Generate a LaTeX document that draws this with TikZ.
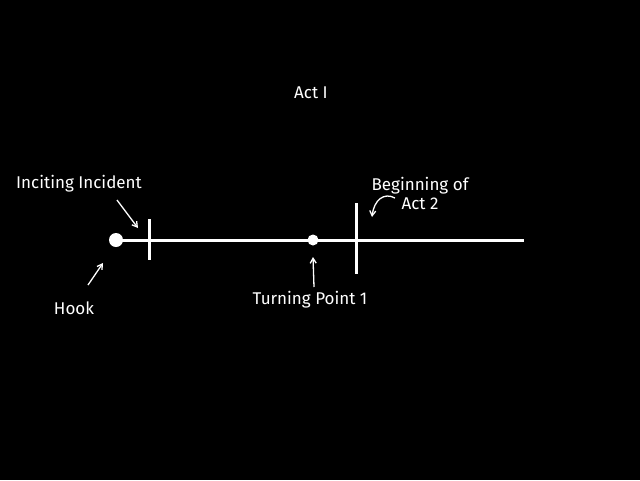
\documentclass[tikz,border=0pt]{standalone}
\usepackage{fontspec}
\setmainfont{Fira Sans}
\usetikzlibrary{arrows.meta, positioning}

\begin{document}
\begin{tikzpicture}[
  x=1pt, y=-1pt,
  lbl/.style={text=white, font=\fontsize{17}{19}\selectfont, align=center, inner sep=0pt},
  dot/.style={circle, fill=white, inner sep=0pt},
  pointer/.style={draw=white, line width=1.3pt, -{Straight Barb[length=5pt, width=6pt]}},
]
  \fill[black] (0,0) rectangle (640,480);
  \useasboundingbox (0,0) rectangle (640,480);

  % the timeline
  \node[dot, minimum size=14pt] (hook) at (116,240) {};
  \node[dot, minimum size=11pt] (tp1)  at (313,240) {};
  \coordinate (lineend) at (524,240);
  \draw[white, line width=3pt] (hook.center) -- (lineend);
  \draw[white, line width=3pt] (149,219) coordinate (inctop) -- (149,260);
  \draw[white, line width=3pt] (356,203) coordinate (acttop) -- (356,274);

  % labels
  \node[lbl] (act)   at (311,93)  {Act I};
  \node[lbl] (inc)   at (79,184)  {Inciting Incident};
  \node[lbl] (hooklbl) at (74,308) {Hook};
  \node[lbl] (tplbl) at (310,300) {Turning Point 1};
  \node[lbl] (act2)  at (420,193) {Beginning of\\Act 2};

  % pointers
  \coordinate (incfrom) at (117,200);
  \coordinate (incto)   at (138,228);
  \draw[pointer] (incfrom) -- (incto);
  \coordinate (hookfrom) at (88,285);
  \coordinate (hookto)   at (103,263);
  \draw[pointer] (hookfrom) -- (hookto);
  \coordinate (tpfrom) at (314,287);
  \draw[pointer] (tpfrom) -- (tp1.south |- 0,257);
  \coordinate (act2from) at (395,198);
  \coordinate (act2to)   at (372,217);
  \draw[pointer] (act2from) .. controls (384,192) and (374,200) .. (act2to);
\end{tikzpicture}
\end{document}
